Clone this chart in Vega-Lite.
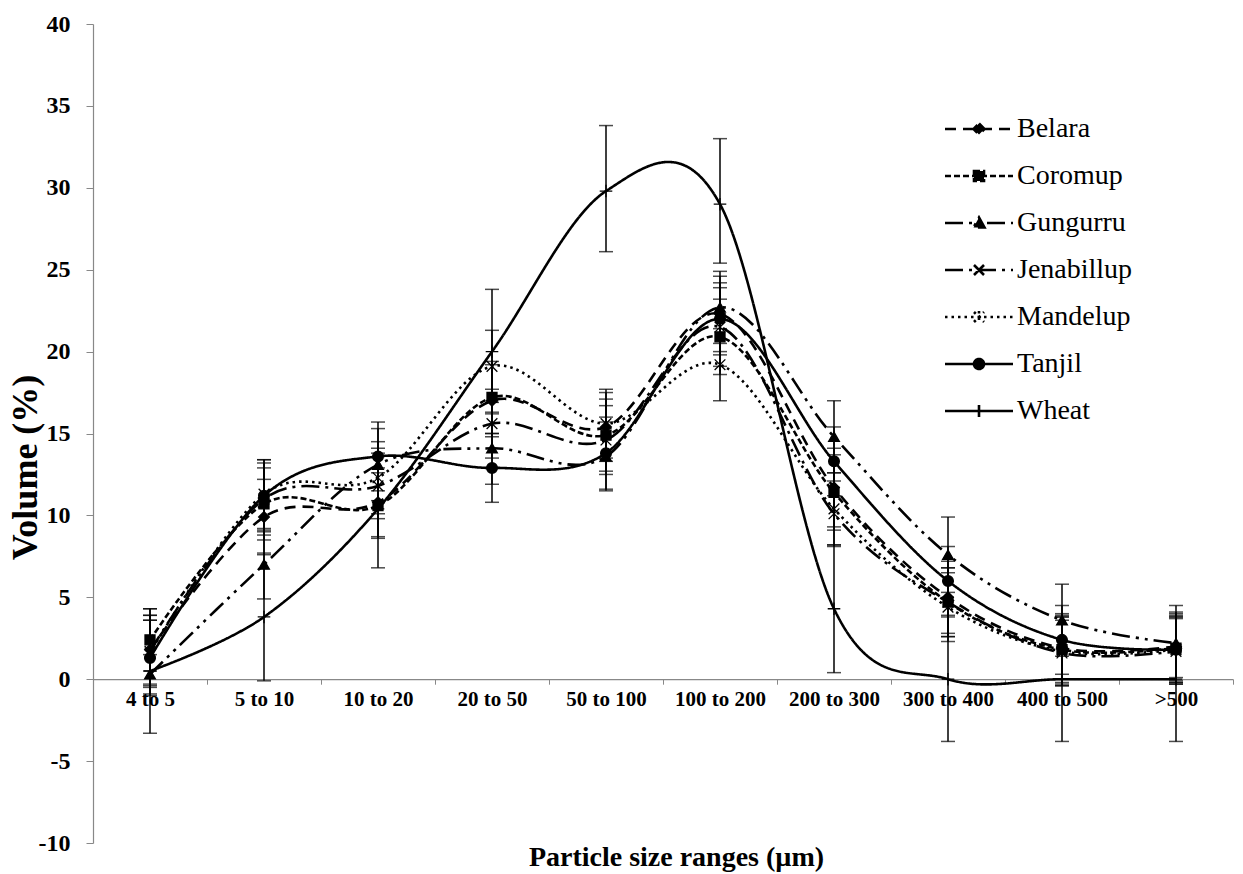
{
  "$schema": "https://vega.github.io/schema/vega-lite/v6.json",
  "width": 1140,
  "height": 819,
  "autosize": "none",
  "padding": {"left": 93, "top": 24, "right": 10, "bottom": 31},
  "background": "white",
  "config": {
    "view": {"stroke": null},
    "font": "Liberation Serif",
    "point": {"filled": true, "fill": "black", "stroke": "black", "strokeWidth": 1.3, "size": 115, "opacity": 1}
  },
  "data": {
    "values": [
      {"size": "4 to 5", "cultivar": "Belara", "v": 1.8, "lo": -0.3, "hi": 3.9},
      {"size": "5 to 10", "cultivar": "Belara", "v": 9.9, "lo": 7.6, "hi": 12.2},
      {"size": "10 to 20", "cultivar": "Belara", "v": 10.8, "lo": 8.7, "hi": 12.9},
      {"size": "20 to 50", "cultivar": "Belara", "v": 17.0, "lo": 14.8, "hi": 19.2},
      {"size": "50 to 100", "cultivar": "Belara", "v": 15.4, "lo": 13.3, "hi": 17.5},
      {"size": "100 to 200", "cultivar": "Belara", "v": 22.3, "lo": 20.0, "hi": 24.6},
      {"size": "200 to 300", "cultivar": "Belara", "v": 11.7, "lo": 9.3, "hi": 14.1},
      {"size": "300 to 400", "cultivar": "Belara", "v": 5.0, "lo": 2.8, "hi": 7.2},
      {"size": "400 to 500", "cultivar": "Belara", "v": 1.9, "lo": -0.2, "hi": 4.0},
      {"size": ">500", "cultivar": "Belara", "v": 2.0, "lo": -0.1, "hi": 4.1},

      {"size": "4 to 5", "cultivar": "Coromup", "v": 2.4, "lo": 0.5, "hi": 4.3},
      {"size": "5 to 10", "cultivar": "Coromup", "v": 10.7, "lo": 8.5, "hi": 12.9},
      {"size": "10 to 20", "cultivar": "Coromup", "v": 10.6, "lo": 8.6, "hi": 12.6},
      {"size": "20 to 50", "cultivar": "Coromup", "v": 17.2, "lo": 15.0, "hi": 19.4},
      {"size": "50 to 100", "cultivar": "Coromup", "v": 14.9, "lo": 12.7, "hi": 17.1},
      {"size": "100 to 200", "cultivar": "Coromup", "v": 20.9, "lo": 18.6, "hi": 23.2},
      {"size": "200 to 300", "cultivar": "Coromup", "v": 11.4, "lo": 9.1, "hi": 13.7},
      {"size": "300 to 400", "cultivar": "Coromup", "v": 4.7, "lo": 2.6, "hi": 6.8},
      {"size": "400 to 500", "cultivar": "Coromup", "v": 1.8, "lo": -0.3, "hi": 3.9},
      {"size": ">500", "cultivar": "Coromup", "v": 1.9, "lo": -0.2, "hi": 4.0},

      {"size": "4 to 5", "cultivar": "Gungurru", "v": 0.3, "lo": -0.9, "hi": 1.5},
      {"size": "5 to 10", "cultivar": "Gungurru", "v": 7.0, "lo": 4.9, "hi": 9.1},
      {"size": "10 to 20", "cultivar": "Gungurru", "v": 13.1, "lo": 10.9, "hi": 15.3},
      {"size": "20 to 50", "cultivar": "Gungurru", "v": 14.1, "lo": 11.9, "hi": 16.3},
      {"size": "50 to 100", "cultivar": "Gungurru", "v": 13.6, "lo": 11.5, "hi": 15.7},
      {"size": "100 to 200", "cultivar": "Gungurru", "v": 22.7, "lo": 20.5, "hi": 24.9},
      {"size": "200 to 300", "cultivar": "Gungurru", "v": 14.8, "lo": 12.6, "hi": 17.0},
      {"size": "300 to 400", "cultivar": "Gungurru", "v": 7.6, "lo": 5.3, "hi": 9.9},
      {"size": "400 to 500", "cultivar": "Gungurru", "v": 3.6, "lo": 1.4, "hi": 5.8},
      {"size": ">500", "cultivar": "Gungurru", "v": 2.2, "lo": 0.1, "hi": 4.5},

      {"size": "4 to 5", "cultivar": "Jenabillup", "v": 1.7, "lo": -0.5, "hi": 3.9},
      {"size": "5 to 10", "cultivar": "Jenabillup", "v": 11.0, "lo": 8.8, "hi": 13.2},
      {"size": "10 to 20", "cultivar": "Jenabillup", "v": 11.8, "lo": 9.8, "hi": 13.8},
      {"size": "20 to 50", "cultivar": "Jenabillup", "v": 15.6, "lo": 13.5, "hi": 17.7},
      {"size": "50 to 100", "cultivar": "Jenabillup", "v": 14.6, "lo": 12.5, "hi": 16.7},
      {"size": "100 to 200", "cultivar": "Jenabillup", "v": 21.5, "lo": 19.1, "hi": 23.9},
      {"size": "200 to 300", "cultivar": "Jenabillup", "v": 10.1, "lo": 8.1, "hi": 12.1},
      {"size": "300 to 400", "cultivar": "Jenabillup", "v": 4.7, "lo": 2.6, "hi": 6.8},
      {"size": "400 to 500", "cultivar": "Jenabillup", "v": 1.6, "lo": -0.4, "hi": 3.6},
      {"size": ">500", "cultivar": "Jenabillup", "v": 1.7, "lo": -0.3, "hi": 3.7},

      {"size": "4 to 5", "cultivar": "Mandelup", "v": 1.6, "lo": -0.4, "hi": 3.6},
      {"size": "5 to 10", "cultivar": "Mandelup", "v": 11.3, "lo": 9.2, "hi": 13.4},
      {"size": "10 to 20", "cultivar": "Mandelup", "v": 12.3, "lo": 10.1, "hi": 14.5},
      {"size": "20 to 50", "cultivar": "Mandelup", "v": 19.1, "lo": 16.9, "hi": 21.3},
      {"size": "50 to 100", "cultivar": "Mandelup", "v": 15.6, "lo": 13.5, "hi": 17.7},
      {"size": "100 to 200", "cultivar": "Mandelup", "v": 19.2, "lo": 17.0, "hi": 21.4},
      {"size": "200 to 300", "cultivar": "Mandelup", "v": 10.4, "lo": 8.2, "hi": 12.6},
      {"size": "300 to 400", "cultivar": "Mandelup", "v": 4.4, "lo": 2.3, "hi": 6.5},
      {"size": "400 to 500", "cultivar": "Mandelup", "v": 1.7, "lo": -0.4, "hi": 3.8},
      {"size": ">500", "cultivar": "Mandelup", "v": 1.8, "lo": -0.3, "hi": 3.9},

      {"size": "4 to 5", "cultivar": "Tanjil", "v": 1.3, "lo": -1.0, "hi": 3.6},
      {"size": "5 to 10", "cultivar": "Tanjil", "v": 11.2, "lo": 9.0, "hi": 13.4},
      {"size": "10 to 20", "cultivar": "Tanjil", "v": 13.6, "lo": 11.5, "hi": 15.7},
      {"size": "20 to 50", "cultivar": "Tanjil", "v": 12.9, "lo": 10.8, "hi": 15.0},
      {"size": "50 to 100", "cultivar": "Tanjil", "v": 13.8, "lo": 11.6, "hi": 16.0},
      {"size": "100 to 200", "cultivar": "Tanjil", "v": 22.0, "lo": 19.8, "hi": 24.2},
      {"size": "200 to 300", "cultivar": "Tanjil", "v": 13.3, "lo": 11.2, "hi": 15.4},
      {"size": "300 to 400", "cultivar": "Tanjil", "v": 6.0, "lo": 3.9, "hi": 8.1},
      {"size": "400 to 500", "cultivar": "Tanjil", "v": 2.4, "lo": 0.3, "hi": 4.5},
      {"size": ">500", "cultivar": "Tanjil", "v": 1.8, "lo": -0.2, "hi": 3.8},

      {"size": "4 to 5", "cultivar": "Wheat", "v": 0.5, "lo": -3.3, "hi": 4.3},
      {"size": "5 to 10", "cultivar": "Wheat", "v": 3.8, "lo": -0.1, "hi": 7.7},
      {"size": "10 to 20", "cultivar": "Wheat", "v": 10.4, "lo": 6.8, "hi": 14.1},
      {"size": "20 to 50", "cultivar": "Wheat", "v": 20.0, "lo": 16.2, "hi": 23.8},
      {"size": "50 to 100", "cultivar": "Wheat", "v": 29.8, "lo": 26.1, "hi": 33.8},
      {"size": "100 to 200", "cultivar": "Wheat", "v": 29.0, "lo": 25.4, "hi": 33.0},
      {"size": "200 to 300", "cultivar": "Wheat", "v": 4.3, "lo": 0.4, "hi": 8.2},
      {"size": "300 to 400", "cultivar": "Wheat", "v": 0.0, "lo": -3.8, "hi": 3.8},
      {"size": "400 to 500", "cultivar": "Wheat", "v": 0.0, "lo": -3.8, "hi": 3.8},
      {"size": ">500", "cultivar": "Wheat", "v": 0.0, "lo": -3.8, "hi": 3.8}
    ]
  },
  "encoding": {
    "x": {
      "field": "size",
      "type": "nominal",
      "sort": ["4 to 5", "5 to 10", "10 to 20", "20 to 50", "50 to 100", "100 to 200", "200 to 300", "300 to 400", "400 to 500", ">500"],
      "scale": {"type": "band", "paddingInner": 0, "paddingOuter": 0},
      "axis": {
        "title": "Particle size ranges (µm)",
        "offset": -163.8,
        "labelAngle": 0,
        "tickBand": "extent",
        "tickSize": 5,
        "tickColor": "#888888",
        "domainColor": "#888888",
        "domainWidth": 1.2,
        "labelFont": "Liberation Serif",
        "labelFontWeight": "bold",
        "labelFontSize": 21,
        "labelColor": "black",
        "labelPadding": 4,
        "titleFont": "Liberation Serif",
        "titleFontWeight": "bold",
        "titleFontSize": 28,
        "titleColor": "black",
        "titleX": 583,
        "titleY": 178,
        "titleAlign": "center",
        "titleBaseline": "middle",
        "grid": false
      }
    },
    "y": {
      "field": "v",
      "type": "quantitative",
      "scale": {"domain": [-10, 40], "nice": false, "zero": false},
      "axis": {
        "title": "Volume (%)",
        "values": [-10, -5, 0, 5, 10, 15, 20, 25, 30, 35, 40],
        "labelExpr": "datum.value < 0 ? '-' + abs(datum.value) : datum.label",
        "grid": false,
        "tickSize": 7,
        "tickColor": "#888888",
        "domainColor": "#888888",
        "domainWidth": 1.2,
        "labelFont": "Liberation Serif",
        "labelFontWeight": "bold",
        "labelFontSize": 24,
        "labelColor": "black",
        "labelPadding": 16,
        "titleFont": "Liberation Serif",
        "titleFontWeight": "bold",
        "titleFontSize": 36,
        "titleColor": "black",
        "titleX": -68,
        "titleY": 443,
        "titleBaseline": "middle",
        "titleAlign": "center"
      }
    }
  },
  "layer": [
    {
      "mark": {"type": "rule", "color": "black", "strokeWidth": 1.5},
      "encoding": {
        "y": {"field": "lo", "type": "quantitative"},
        "y2": {"field": "hi"}
      }
    },
    {
      "mark": {"type": "tick", "color": "black", "thickness": 1.5, "size": 14, "orient": "horizontal"},
      "encoding": {
        "y": {"field": "lo", "type": "quantitative"}
      }
    },
    {
      "mark": {"type": "tick", "color": "black", "thickness": 1.5, "size": 14, "orient": "horizontal"},
      "encoding": {
        "y": {"field": "hi", "type": "quantitative"}
      }
    },
    {
      "mark": {"type": "line", "interpolate": "cardinal", "strokeWidth": 2.6, "color": "black"},
      "encoding": {
        "strokeDash": {
          "field": "cultivar",
          "type": "nominal",
          "scale": {
            "domain": ["Belara", "Coromup", "Gungurru", "Jenabillup", "Mandelup", "Tanjil", "Wheat"],
            "range": [[11, 7], [6, 3], [18, 6, 3, 6, 3, 6], [18, 6, 3, 6], [2.5, 4], [1, 0], [1, 0]]
          },
          "legend": {
            "title": null,
            "orient": "none",
            "legendX": 872,
            "legendY": 91,
            "padding": 0,
            "rowPadding": 19,
            "symbolSize": 400,
            "symbolStrokeWidth": 2.6,
            "symbolStrokeColor": "black",
            "labelFont": "Liberation Serif",
            "labelFontSize": 28,
            "labelColor": "black",
            "labelOffset": 24,
            "labelLimit": 300,
            "encode": {
              "symbols": {
                "update": {
                  "fill": {"value": "black"},
                  "stroke": {"value": "black"},
                  "opacity": {"value": 1},
                  "shape": {"signal": "datum.value === 'Belara' ? 'M-3.4,0H3.4M0,-0.55L0.55,0L0,0.55L-0.55,0Z' : datum.value === 'Coromup' ? 'M-3.4,0H3.4M-0.5,-0.5H0.5V0.5H-0.5Z' : datum.value === 'Gungurru' ? 'M-3.4,0H3.4M0,-0.55L0.55,0.45L-0.55,0.45Z' : datum.value === 'Jenabillup' ? 'M-3.4,0H3.4M-0.5,-0.5L0.5,0.5M-0.5,0.5L0.5,-0.5' : datum.value === 'Mandelup' ? 'M-3.4,0H3.4M-0.5,-0.5L0.5,0.5M-0.5,0.5L0.5,-0.5M0,-0.6V0.6' : datum.value === 'Tanjil' ? 'M-3.4,0H3.4M0.5,0A0.5,0.5,0,1,1,-0.5,0A0.5,0.5,0,1,1,0.5,0Z' : 'M-3.4,0H3.4M0,-0.6V0.6'"}
                }
              }
            }
          }
        }
      }
    },
    {
      "transform": [{"filter": "datum.cultivar === 'Belara'"}],
      "mark": {"type": "point", "shape": "diamond"},
      "encoding": {}
    },
    {
      "transform": [{"filter": "datum.cultivar === 'Coromup'"}],
      "mark": {"type": "point", "shape": "square", "size": 100},
      "encoding": {}
    },
    {
      "transform": [{"filter": "datum.cultivar === 'Gungurru'"}],
      "mark": {"type": "point", "shape": "triangle-up"},
      "encoding": {}
    },
    {
      "transform": [{"filter": "datum.cultivar === 'Jenabillup'"}],
      "mark": {"type": "point", "shape": "M-1,-1L1,1M-1,1L1,-1"},
      "encoding": {}
    },
    {
      "transform": [{"filter": "datum.cultivar === 'Mandelup'"}],
      "mark": {"type": "point", "shape": "M-1,-1L1,1M-1,1L1,-1M0,-1.2V1.2"},
      "encoding": {}
    },
    {
      "transform": [{"filter": "datum.cultivar === 'Tanjil'"}],
      "mark": {"type": "point", "shape": "circle"},
      "encoding": {}
    },
    {
      "transform": [{"filter": "datum.cultivar === 'Wheat'"}],
      "mark": {"type": "point", "shape": "M-1.2,0H1.2M0,-1.2V1.2", "size": 110},
      "encoding": {}
    }
  ]
}
